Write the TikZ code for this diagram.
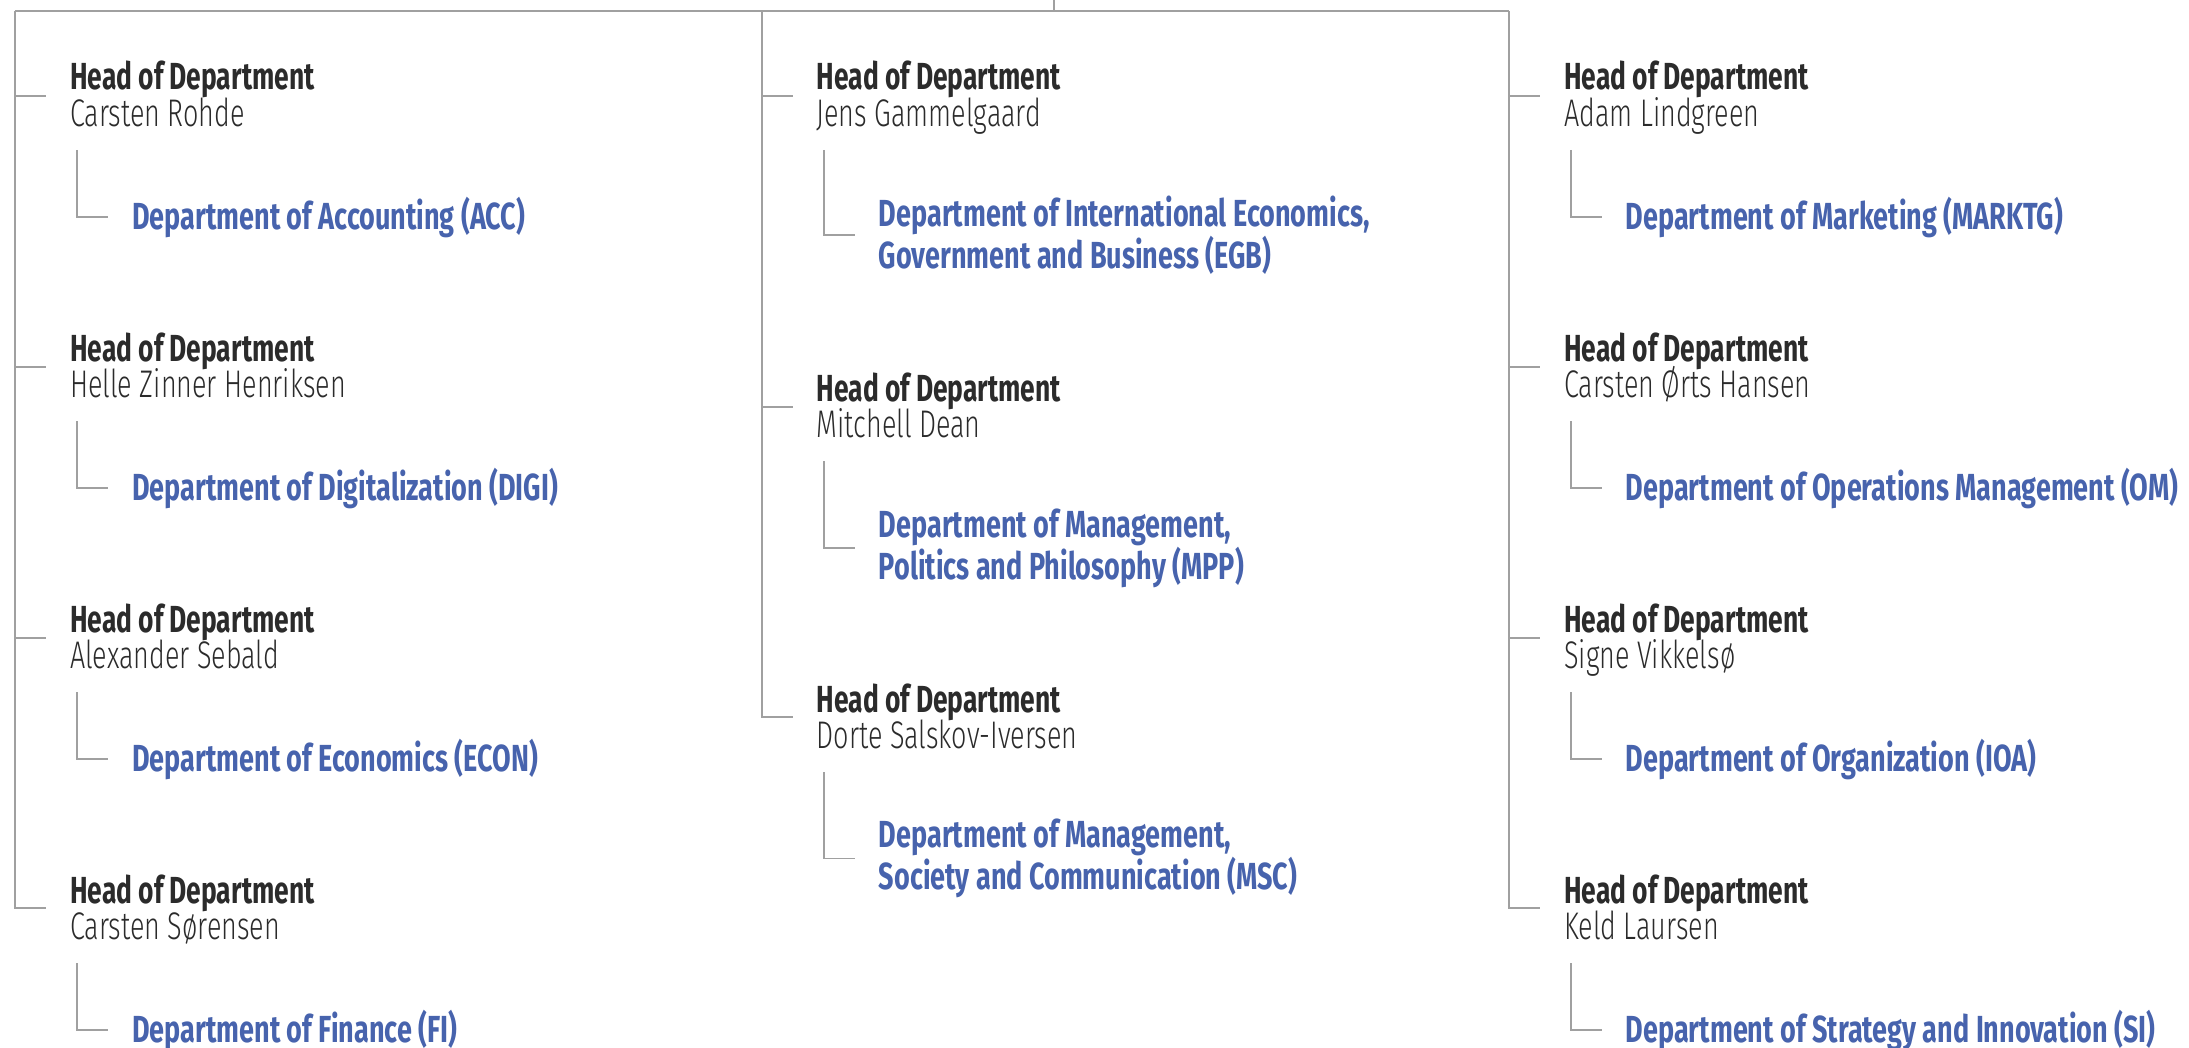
\documentclass[tikz,border=0pt]{standalone}
\usepackage{fontspec}
\usetikzlibrary{calc}
\newfontfamily\hdfont[FakeStretch=0.70]{Fira Sans}
\newfontfamily\dpfont[FakeStretch=0.717]{Fira Sans}
\newfontfamily\nmfont[FakeStretch=0.70]{Fira Sans Light}
\definecolor{lnk}{HTML}{A0A0A0}
\definecolor{hd}{HTML}{2B2B2B}
\definecolor{dp}{HTML}{4763AD}
\tikzset{
 link/.style={draw=lnk,line width=1.8pt},
 headtxt/.style={anchor=base west,inner sep=0pt,text=hd,font=\hdfont\bfseries\fontsize{37.7}{39}\selectfont},
 nametxt/.style={anchor=base west,inner sep=0pt,text=hd,font=\nmfont\fontsize{38.5}{39}\selectfont},
 depttxt/.style={anchor=base west,inner sep=0pt,text=dp,align=left,font=\dpfont\bfseries\fontsize{37.7}{39}\selectfont},
}
\begin{document}
\begin{tikzpicture}[x=1pt,y=-1pt]
\useasboundingbox (0,0) rectangle (2189,1048);
% ---- left column
\node[headtxt] (L1h) at (70,90) {Head of Department};
\node[nametxt] (L1n) at (70,126.7) {Carsten Rohde};
\node[depttxt] (L1d) at (132,229.3) {Department of Accounting (ACC)};
\node[headtxt] (L2h) at (70,361) {Head of Department};
\node[nametxt] (L2n) at (70,397.7) {Helle Zinner Henriksen};
\node[depttxt] (L2d) at (132,500.3) {Department of Digitalization (DIGI)};
\node[headtxt] (L3h) at (70,632) {Head of Department};
\node[nametxt] (L3n) at (70,668.7) {Alexander Sebald};
\node[depttxt] (L3d) at (132,771.3) {Department of Economics (ECON)};
\node[headtxt] (L4h) at (70,903) {Head of Department};
\node[nametxt] (L4n) at (70,939.7) {Carsten Sørensen};
\node[depttxt] (L4d) at (132,1042.3) {Department of Finance (FI)};
% ---- middle column (two-line departments: base = last line)
\node[headtxt] (M1h) at (816.5,90) {Head of Department};
\node[nametxt] (M1n) at (816.5,126.7) {Jens Gammelgaard};
\node[depttxt] (M1d) at (878.6,268.3) {Department of International Economics,\\Government and Business (EGB)};
\node[headtxt] (M2h) at (816.5,401) {Head of Department};
\node[nametxt] (M2n) at (816.5,437.7) {Mitchell Dean};
\node[depttxt] (M2d) at (878.6,579.3) {Department of Management,\\Politics and Philosophy (MPP)};
\node[headtxt] (M3h) at (816.5,712) {Head of Department};
\node[nametxt] (M3n) at (816.5,748.7) {Dorte Salskov-Iversen};
\node[depttxt] (M3d) at (878.6,889.5) {Department of Management,\\Society and Communication (MSC)};
% ---- right column
\node[headtxt] (R1h) at (1564,90) {Head of Department};
\node[nametxt] (R1n) at (1564,126.7) {Adam Lindgreen};
\node[depttxt] (R1d) at (1625.5,229.3) {Department of Marketing (MARKTG)};
\node[headtxt] (R2h) at (1564,361) {Head of Department};
\node[nametxt] (R2n) at (1564,397.7) {Carsten Ørts Hansen};
\node[depttxt] (R2d) at (1625.5,500.3) {Department of Operations Management (OM)};
\node[headtxt] (R3h) at (1564,632) {Head of Department};
\node[nametxt] (R3n) at (1564,668.7) {Signe Vikkelsø};
\node[depttxt] (R3d) at (1625.5,771.3) {Department of Organization (IOA)};
\node[headtxt] (R4h) at (1564,903) {Head of Department};
\node[nametxt] (R4n) at (1564,939.7) {Keld Laursen};
\node[depttxt] (R4d) at (1625.5,1042.3) {Department of Strategy and Innovation (SI)};
% ---- top bar
\coordinate (root) at (1053.6,0);
\coordinate (rootbar) at (1053.6,11);
\coordinate (barL) at (15.3,11);
\coordinate (barM) at (762.2,11);
\coordinate (barR) at (1509,11);
\draw[link] (root) -- (rootbar);
\draw[link] (barL) -- (barR);
% ---- spines and ticks
\foreach \c/\s/\last in {L/barL/4,M/barM/3,R/barR/4}{
  \draw[link] (\s) |- ($(\c\last h.base west)+(-23.8,5)$);
}
\foreach \h in {L1h,L2h,L3h,M1h,M2h,R1h,R2h,R3h}{
  \draw[link] ($(\h.base west)+(-54.8,6)$) -- ($(\h.base west)+(-23.8,6)$);
}
% ---- head to department
\foreach \c in {L1,L2,L3,L4,M1,M2,M3,R1,R2,R3,R4}{
  \draw[link] ($(\c h.base west)+(7.3,60)$) |- ([xshift=-23.8]\c d.west);
}
\end{tikzpicture}
\end{document}
